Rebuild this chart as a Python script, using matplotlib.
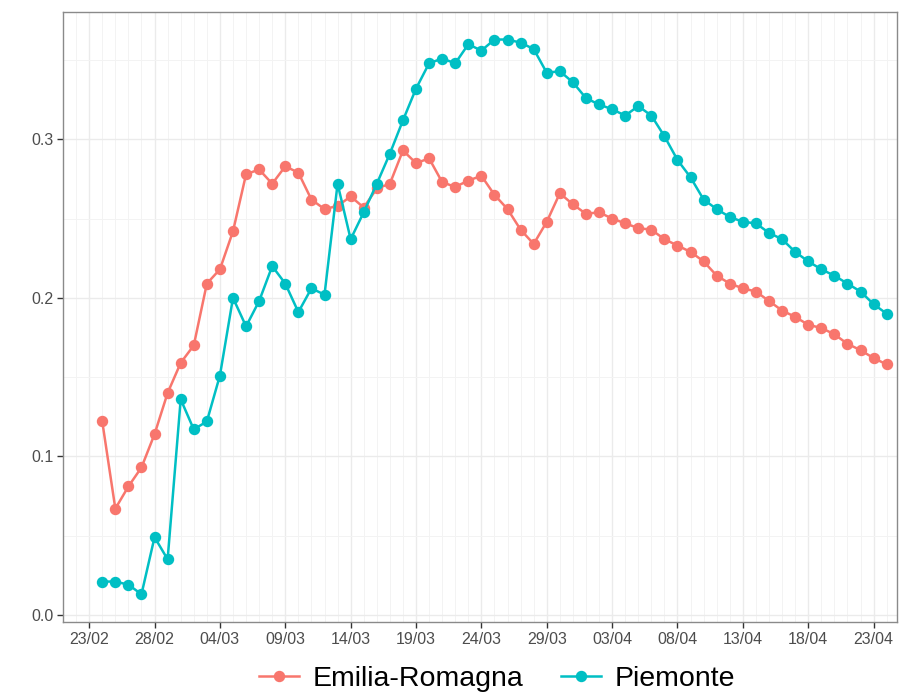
import numpy as np
import matplotlib
matplotlib.use('Agg')
import matplotlib.pyplot as plt
import matplotlib.dates as mdates

plt.rcParams['font.family'] = ['Liberation Sans', 'DejaVu Sans']

# daily values from 24/02/2020 to 24/04/2020
start = np.datetime64('2020-02-24')
n_days = 61
dates = start + np.arange(n_days).astype('timedelta64[D]')

emilia = [0.122, 0.067, 0.081, 0.093, 0.114, 0.140, 0.159, 0.170, 0.209, 0.218,
          0.242, 0.278, 0.281, 0.272, 0.283, 0.279, 0.262, 0.256, 0.258, 0.264,
          0.257, 0.269, 0.272, 0.293, 0.285, 0.288, 0.273, 0.270, 0.274, 0.277,
          0.265, 0.256, 0.243, 0.234, 0.248, 0.266, 0.259, 0.253, 0.254, 0.250,
          0.247, 0.244, 0.243, 0.237, 0.233, 0.229, 0.223, 0.214, 0.209, 0.206,
          0.204, 0.198, 0.192, 0.188, 0.183, 0.181, 0.177, 0.171, 0.167, 0.162,
          0.158]

piemonte = [0.021, 0.021, 0.019, 0.013, 0.049, 0.035, 0.136, 0.117, 0.122, 0.151,
            0.200, 0.182, 0.198, 0.220, 0.209, 0.191, 0.206, 0.202, 0.272, 0.237,
            0.254, 0.272, 0.291, 0.312, 0.332, 0.348, 0.351, 0.348, 0.360, 0.356,
            0.363, 0.363, 0.361, 0.357, 0.342, 0.343, 0.336, 0.326, 0.322, 0.319,
            0.315, 0.321, 0.315, 0.302, 0.287, 0.276, 0.262, 0.256, 0.251, 0.248,
            0.247, 0.241, 0.237, 0.229, 0.223, 0.218, 0.214, 0.209, 0.204, 0.196,
            0.190]

series = [("Emilia-Romagna", emilia, "#F8766D"), ("Piemonte", piemonte, "#00BFC4")]

fig = plt.figure(figsize=(9.07, 6.93), dpi=100)
ax = fig.add_axes([0.0695, 0.1025, 0.9195, 0.8805])

for name, vals, col in series:
    ax.plot(dates, vals, color=col, lw=1.8, marker='o', ms=7.2, label=name)

# left side like ggplot's expansion, right side cut a bit short as in the source image
ax.set_xlim(dates[0] - np.timedelta64(72, 'h'), dates[-1] + np.timedelta64(19, 'h'))
ax.set_ylim(-0.0045, 0.3805)

major = np.datetime64('2020-02-23') + np.arange(0, 61, 5).astype('timedelta64[D]')
ax.set_xticks(major)
ax.xaxis.set_major_formatter(mdates.DateFormatter('%d/%m'))
ax.xaxis.set_minor_locator(mdates.DayLocator())
ax.set_yticks([0.0, 0.1, 0.2, 0.3])
ax.set_yticklabels(['0.0', '0.1', '0.2', '0.3'])
ax.set_yticks([0.05, 0.15, 0.25, 0.35], minor=True)

ax.grid(which='major', color='#EBEBEB', lw=1.0)
ax.grid(which='minor', color='#F3F3F3', lw=0.7)
ax.set_axisbelow(True)

ax.tick_params(which='major', length=4, width=1, color='#333333',
               labelcolor='#4D4D4D', labelsize=11.5, pad=3)
ax.tick_params(which='minor', length=0)
for s in ax.spines.values():
    s.set_color('#8A8A8A')
    s.set_linewidth(1.0)

fig.legend(loc='center', bbox_to_anchor=(0.548, 0.02), ncol=2, frameon=False,
           fontsize=20.5, handlelength=1.4, columnspacing=1.3, handletextpad=0.5)

fig.savefig('out.png', dpi=100)
